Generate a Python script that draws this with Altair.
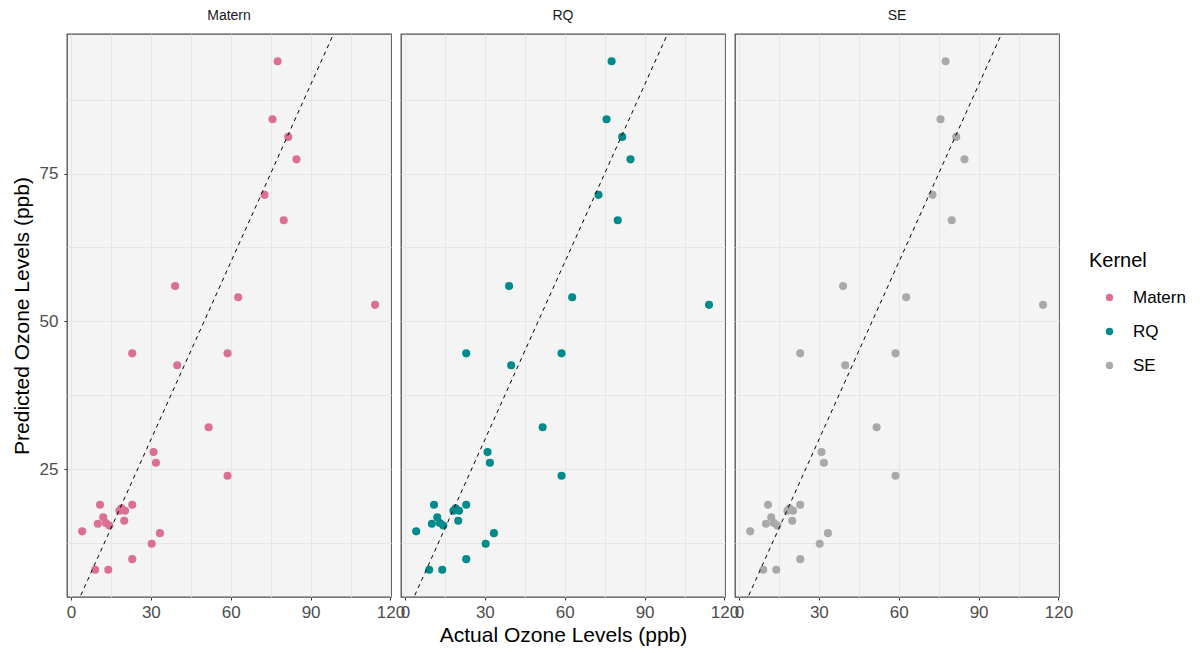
import altair as alt
import pandas as pd

kernels = ["Matern", "RQ", "SE"]
kernel_colors = ["#DB7093", "#008B8B", "#A9A9A9"]

actual = [77.6, 75.7, 81.6, 84.7, 72.7, 79.9, 39.1, 62.8, 114.2, 23.0, 58.8,
          39.9, 51.7, 31.0, 31.9, 58.8, 10.9, 23.0, 19.0, 18.2, 20.3, 12.1,
          10.1, 13.1, 14.4, 20.0, 4.2, 33.4, 30.3, 23.0, 9.1, 14.0]
pred_matern = [94.0, 84.2, 81.2, 77.4, 71.4, 67.1, 56.0, 54.1, 52.8, 44.6, 44.6,
               42.6, 32.1, 27.9, 26.1, 23.9, 19.0, 19.0, 18.4, 18.0, 18.0, 16.9,
               15.8, 15.9, 15.5, 16.3, 14.5, 14.2, 12.4, 9.8, 8.0, 8.0]
pred_rq = [94.0, 84.2, 81.2, 77.4, 71.4, 67.1, 56.0, 54.1, 52.8, 44.6, 44.6,
           42.6, 32.1, 27.9, 26.1, 23.9, 19.0, 19.0, 18.4, 18.0, 18.0, 16.9,
           15.8, 15.9, 15.5, 16.3, 14.5, 14.2, 12.4, 9.8, 8.0, 8.0]
pred_se = [94.0, 84.2, 81.2, 77.4, 71.4, 67.1, 56.0, 54.1, 52.8, 44.6, 44.6,
           42.6, 32.1, 27.9, 26.1, 23.9, 19.0, 19.0, 18.4, 18.0, 18.0, 16.9,
           15.8, 15.9, 15.5, 16.3, 14.5, 14.2, 12.4, 9.8, 8.0, 8.0]

ref_line = [0, 125]  # identity line y = x
x_grid_values = [0, 15, 30, 45, 60, 75, 90, 105, 120]
y_grid_values = [12.5, 25, 37.5, 50, 62.5, 75, 87.5]
x_domain = [-1.5, 120.2]
y_domain = [3.4, 98.6]

FONT = "Liberation Sans"

rows = []
for k, preds in zip(kernels, [pred_matern, pred_rq, pred_se]):
    for a, p in zip(actual, preds):
        rows.append({"Kernel": k, "Actual": a, "Predicted": p})
df = pd.DataFrame(rows)
line_df = pd.DataFrame({"Actual": ref_line, "Predicted": ref_line})

xscale = alt.Scale(domain=x_domain, nice=False, zero=False)
yscale = alt.Scale(domain=y_domain, nice=False, zero=False)
GRID = "#E6E6E6"


def x_axis(show_title):
    kw = dict(
        values=x_grid_values,
        labelExpr="datum.value % 30 === 0 ? datum.label : ''",
        tickOpacity={"condition": {"test": "datum.value % 30 !== 0", "value": 0}, "value": 1},
        tickSize=3, tickColor="#333333", labelColor="#4D4D4D", labelFontSize=17,
        labelFont=FONT, labelPadding=4, labelOverlap=False, labelFlush=False, labelBound=False,
        grid=True, gridColor=GRID, gridWidth=1, domain=False,
        titleFont=FONT, titleFontSize=21, titleFontWeight="normal", titleColor="black",
        titlePadding=4,
    )
    kw["title"] = "Actual Ozone Levels (ppb)" if show_title else ""
    return alt.Axis(**kw)


def y_axis(show):
    if show:
        return alt.Axis(
            values=y_grid_values,
            labelExpr="datum.value % 25 === 0 ? datum.label : ''",
            tickOpacity={"condition": {"test": "datum.value % 25 !== 0", "value": 0}, "value": 1},
            tickSize=3, tickColor="#333333", labelColor="#4D4D4D", labelFontSize=17,
            labelFont=FONT, labelPadding=6, labelOverlap=False,
            grid=True, gridColor=GRID, gridWidth=1, domain=False,
            title="Predicted Ozone Levels (ppb)", titleFont=FONT, titleFontSize=21,
            titleFontWeight="normal", titleColor="black", titlePadding=7,
        )
    return alt.Axis(values=y_grid_values, labels=False, ticks=False, title=None,
                    grid=True, gridColor=GRID, gridWidth=1, domain=False)


def panel(i, k):
    pts = alt.Chart(df).transform_filter(alt.datum.Kernel == k).mark_circle(
        size=65, opacity=1
    ).encode(
        x=alt.X("Actual:Q", scale=xscale, axis=x_axis(i == 1)),
        y=alt.Y("Predicted:Q", scale=yscale, axis=y_axis(i == 0)),
        color=alt.Color(
            "Kernel:N",
            scale=alt.Scale(domain=kernels, range=kernel_colors),
            legend=alt.Legend(
                title="Kernel", orient="none", legendX=1022, legendY=217,
                titleFont=FONT, titleFontSize=20, titleFontWeight="normal",
                titleColor="black", titlePadding=18,
                labelFont=FONT, labelFontSize=17, labelColor="black",
                symbolType="circle", symbolSize=55, symbolStrokeWidth=0,
                symbolOffset=12, rowPadding=16, labelOffset=15,
            ),
        ),
    )
    line = alt.Chart(line_df).mark_line(
        color="black", strokeDash=[4, 4], strokeWidth=1, clip=True
    ).encode(x="Actual:Q", y="Predicted:Q")
    return alt.layer(pts, line).properties(
        width=324, height=563,
        title=alt.Title(k, font=FONT, fontSize=14, fontWeight="normal",
                        color="#1A1A1A", anchor="middle", offset=11),
    )


chart = alt.hconcat(
    *[panel(i, k) for i, k in enumerate(kernels)], spacing=10, bounds="flush"
).properties(
    padding={"left": 10, "top": 8, "right": 5, "bottom": 5},
    background="white",
).configure_view(
    fill="#F4F4F4", stroke="#4D4D4D", strokeWidth=1.3
).resolve_scale(color="shared")

chart.save("out.html", embed_options={"renderer": "svg", "actions": False})
